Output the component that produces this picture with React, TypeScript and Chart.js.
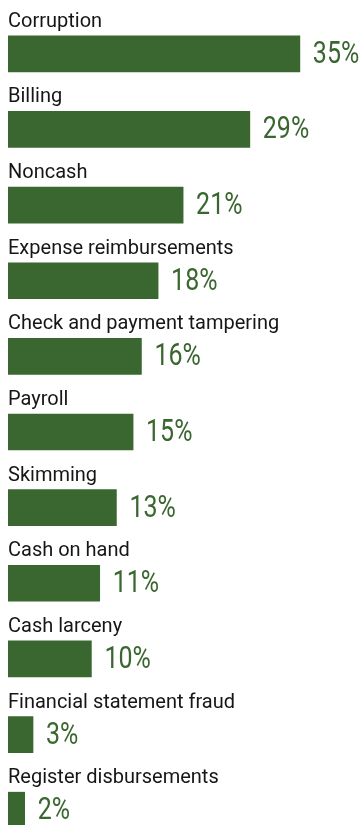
import React, { useEffect, useLayoutEffect, useRef } from "react";
import { Chart, registerables } from "chart.js";

Chart.register(...registerables);

const categories = [
  "Corruption",
  "Billing",
  "Noncash",
  "Expense reimbursements",
  "Check and payment tampering",
  "Payroll",
  "Skimming",
  "Cash on hand",
  "Cash larceny",
  "Financial statement fraud",
  "Register disbursements",
];
const values = [35, 29, 21, 18, 16, 15, 13, 11, 10, 3, 2];
const valueLabels = ["35%", "29%", "21%", "18%", "16%", "15%", "13%", "11%", "10%", "3%", "2%"];

const GREEN = "#39672f";

const labelPlugin = {
  id: "rowLabels",
  afterDatasetsDraw(chart: any) {
    const ctx = chart.ctx;
    const meta = chart.getDatasetMeta(0);
    meta.data.forEach((bar: any, i: number) => {
      const top = bar.y - bar.height / 2;
      ctx.save();
      ctx.fillStyle = "#161616";
      ctx.font = "20px Roboto, 'Noto Sans', sans-serif";
      ctx.textAlign = "left";
      ctx.textBaseline = "alphabetic";
      ctx.fillText(categories[i], chart.chartArea.left, top - 9);
      ctx.restore();

      ctx.save();
      ctx.fillStyle = GREEN;
      ctx.font = "32px Roboto, sans-serif";
      ctx.textAlign = "left";
      ctx.textBaseline = "middle";
      ctx.translate(bar.x + 13, bar.y + 1);
      ctx.scale(0.78, 1);
      ctx.fillText(valueLabels[i], 0, 0);
      ctx.restore();
    });
  },
};

export default function App() {
  const ref = useRef<HTMLCanvasElement>(null);
  useLayoutEffect(() => {
    const prev = document.body.style.margin;
    document.body.style.margin = "0";
    return () => {
      document.body.style.margin = prev;
    };
  }, []);
  useEffect(() => {
    if (!ref.current) return;
    const chart = new Chart(ref.current, {
      type: "bar",
      data: {
        labels: categories,
        datasets: [
          {
            data: values,
            backgroundColor: GREEN,
            borderWidth: 0,
            barThickness: 36,
          },
        ],
      },
      options: {
        indexAxis: "y",
        animation: false,
        responsive: false,
        maintainAspectRatio: false,
        devicePixelRatio: 1,
        layout: { padding: { top: 8, left: 0, right: 0, bottom: 0 } },
        plugins: { legend: { display: false }, tooltip: { enabled: false } },
        scales: {
          x: { display: false, min: 0, max: 42.57 },
          y: { display: false },
        },
      },
      plugins: [labelPlugin],
    });
    return () => chart.destroy();
  }, []);
  return (
    <div
      style={{
        height: 825,
        width: 363,
        overflow: "hidden",
        boxSizing: "border-box",
        paddingTop: 8,
        paddingLeft: 8,
      }}
    >
      <canvas ref={ref} width={355} height={840} style={{ display: "block", width: 355, height: 840 }} />
    </div>
  );
}
